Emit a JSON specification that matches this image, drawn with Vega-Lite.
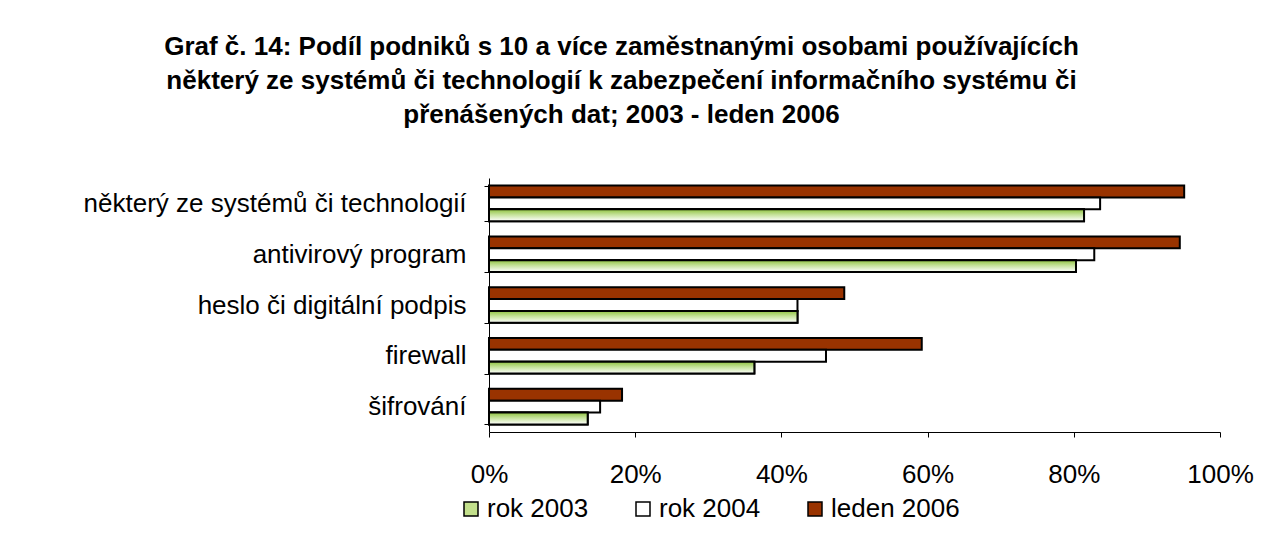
{
  "$schema": "https://vega.github.io/schema/vega-lite/v6.json",
  "width": 731,
  "height": 254,
  "autosize": {"type": "none"},
  "padding": {"left": 489, "top": 178, "right": 56, "bottom": 102},
  "background": "white",
  "title": {
    "text": ["Graf č. 14: Podíl podniků s 10 a více zaměstnanými osobami používajících", "některý ze systémů či technologií k zabezpečení informačního systému či", "přenášených dat; 2003 - leden 2006"],
    "anchor": "middle",
    "frame": "group",
    "dx": -233,
    "offset": 37,
    "font": "Liberation Sans",
    "fontSize": 26,
    "fontWeight": "bold",
    "lineHeight": 34,
    "color": "#000000"
  },
  "data": {
    "values": [
      {"kategorie": "některý ze systémů či technologií", "rok": "leden 2006", "podil": 95.1},
      {"kategorie": "některý ze systémů či technologií", "rok": "rok 2004", "podil": 83.6},
      {"kategorie": "některý ze systémů či technologií", "rok": "rok 2003", "podil": 81.4},
      {"kategorie": "antivirový program", "rok": "leden 2006", "podil": 94.5},
      {"kategorie": "antivirový program", "rok": "rok 2004", "podil": 82.8},
      {"kategorie": "antivirový program", "rok": "rok 2003", "podil": 80.3},
      {"kategorie": "heslo či digitální podpis", "rok": "leden 2006", "podil": 48.6},
      {"kategorie": "heslo či digitální podpis", "rok": "rok 2004", "podil": 42.2},
      {"kategorie": "heslo či digitální podpis", "rok": "rok 2003", "podil": 42.2},
      {"kategorie": "firewall", "rok": "leden 2006", "podil": 59.2},
      {"kategorie": "firewall", "rok": "rok 2004", "podil": 46.1},
      {"kategorie": "firewall", "rok": "rok 2003", "podil": 36.3},
      {"kategorie": "šifrování", "rok": "leden 2006", "podil": 18.2},
      {"kategorie": "šifrování", "rok": "rok 2004", "podil": 15.2},
      {"kategorie": "šifrování", "rok": "rok 2003", "podil": 13.5}
    ]
  },
  "encoding": {
    "y": {
      "field": "kategorie",
      "type": "nominal",
      "sort": ["některý ze systémů či technologií", "antivirový program", "heslo či digitální podpis", "firewall", "šifrování"],
      "scale": {"paddingInner": 0.3, "paddingOuter": 0.15},
      "axis": {
        "title": null,
        "tickBand": "extent",
        "domainColor": "#000000",
        "tickColor": "#000000",
        "tickSize": 5,
        "labelFont": "Liberation Sans",
        "labelFontSize": 26,
        "labelColor": "#000000",
        "labelPadding": 18,
        "labelLimit": 600
      }
    },
    "x": {
      "field": "podil",
      "type": "quantitative",
      "scale": {"domain": [0, 100], "nice": false},
      "axis": {
        "title": null,
        "values": [0, 20, 40, 60, 80, 100],
        "labelExpr": "datum.value + '%'",
        "labelFlush": false,
        "grid": false,
        "domainColor": "#000000",
        "tickColor": "#000000",
        "tickSize": 5,
        "labelFont": "Liberation Sans",
        "labelFontSize": 26,
        "labelColor": "#000000",
        "labelPadding": 24
      }
    },
    "yOffset": {
      "field": "rok",
      "type": "nominal",
      "sort": ["leden 2006", "rok 2004", "rok 2003"],
      "scale": {"paddingInner": 0, "paddingOuter": 0}
    }
  },
  "layer": [
    {
      "mark": {"type": "bar", "stroke": "#000000", "strokeWidth": 2, "cornerRadius": 0},
      "encoding": {
        "color": {
          "field": "rok",
          "type": "nominal",
          "scale": {"domain": ["rok 2003", "rok 2004", "leden 2006"], "range": ["#c3e08c", "#ffffff", "#993300"]},
          "legend": {
            "title": null,
            "orient": "none",
            "direction": "horizontal",
            "legendX": -31,
            "legendY": 318,
            "symbolType": "square",
            "symbolSize": 196,
            "symbolStrokeColor": "#000000",
            "symbolStrokeWidth": 1.5,
            "symbolOpacity": 1,
            "labelFont": "Liberation Sans",
            "labelFontSize": 26,
            "labelColor": "#000000",
            "labelOffset": 3,
            "labelLimit": 300,
            "columnPadding": 41
          }
        }
      }
    },
    {
      "transform": [{"filter": "datum.rok === 'rok 2003'"}],
      "mark": {
        "type": "bar",
        "stroke": "#000000",
        "strokeWidth": 2,
        "fill": {
          "gradient": "linear",
          "x1": 0, "y1": 0, "x2": 0, "y2": 1,
          "stops": [
            {"offset": 0, "color": "#8fc23f"},
            {"offset": 0.45, "color": "#c5e29a"},
            {"offset": 1, "color": "#ffffff"}
          ]
        }
      }
    }
  ],
  "config": {
    "view": {"stroke": null}
  }
}
